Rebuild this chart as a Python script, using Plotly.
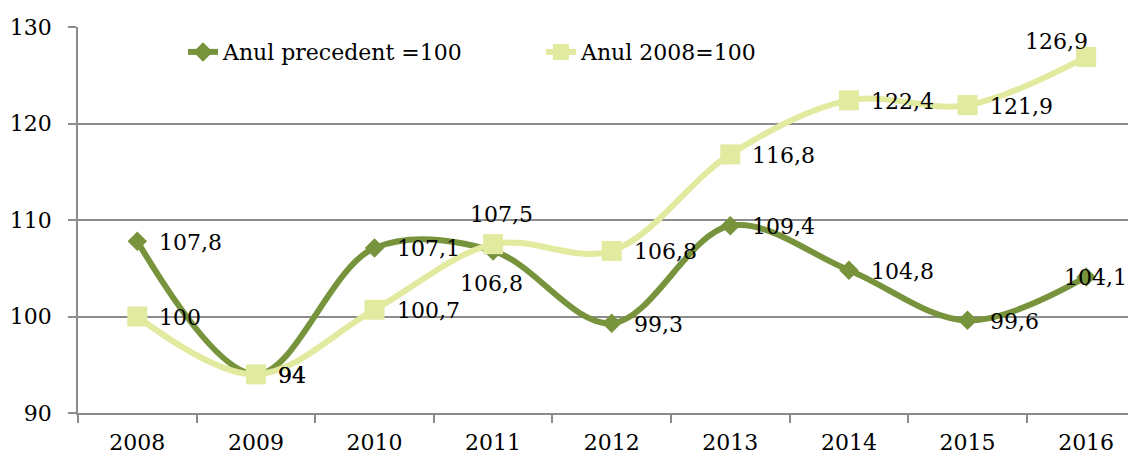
import plotly.graph_objects as go

years = ["2008", "2009", "2010", "2011", "2012", "2013", "2014", "2015", "2016"]
prev_year = [107.8, 94, 107.1, 106.8, 99.3, 109.4, 104.8, 99.6, 104.1]
base_2008 = [100, 94, 100.7, 107.5, 106.8, 116.8, 122.4, 121.9, 126.9]
name_prev = "Anul precedent =100"
name_base = "Anul 2008=100"
y_ticks = [90, 100, 110, 120, 130]


def fmt(v):
    s = f"{v:.1f}".replace(".", ",")
    return s[:-2] if s.endswith(",0") else s


FONT = "DejaVu Serif"
FS = 22
DARK = "#77933C"
LIGHT = "#E1EA9E"
GRID = "#8C8C8C"

# label placement: r = right of point, t = above, b = below, e = right but pulled in at the edge
place_prev = ["r", "r", "r", "b", "r", "r", "r", "r", "e"]
place_base = ["r", "r", "r", "t", "r", "r", "r", "r", "tl"]

fig = go.Figure()
fig.add_trace(go.Scatter(
    x=years, y=prev_year, name=name_prev, mode="lines+markers",
    line=dict(color=DARK, width=6, shape="spline", smoothing=1),
    marker=dict(symbol="diamond", size=15, color=DARK),
))
fig.add_trace(go.Scatter(
    x=years, y=base_2008, name=name_base, mode="lines+markers",
    line=dict(color=LIGHT, width=6, shape="spline", smoothing=1),
    marker=dict(symbol="square", size=20, color=LIGHT),
))

anns = []
for vals, places in ((prev_year, place_prev), (base_2008, place_base)):
    for i, (v, p) in enumerate(zip(vals, places)):
        # category axes take the serial index of the category for annotations
        a = dict(x=i, y=v, xref="x", yref="y", text=fmt(v), showarrow=False,
                 font=dict(family=FONT, size=FS, color="black"))
        if p == "r":
            a.update(xanchor="left", yanchor="middle", xshift=20, yshift=-1)
        elif p == "e":
            a.update(xanchor="left", yanchor="middle", xshift=-24, yshift=-1)
        elif p == "t":
            a.update(xanchor="center", yanchor="middle", xshift=8, yshift=30)
        elif p == "b":
            a.update(xanchor="center", yanchor="middle", xshift=-2, yshift=-33)
        elif p == "tl":
            a.update(xanchor="right", yanchor="middle", xshift=4, yshift=15)
        anns.append(a)

fig.update_layout(
    width=1128, height=458,
    margin=dict(l=78, r=0, t=27, b=45),
    paper_bgcolor="white", plot_bgcolor="white",
    font=dict(family=FONT, size=FS, color="black"),
    showlegend=True,
    annotations=anns,
    legend=dict(orientation="h", x=0.100, y=0.935, xanchor="left", yanchor="middle",
                bgcolor="rgba(0,0,0,0)", font=dict(family=FONT, size=FS),
                entrywidth=313, entrywidthmode="pixels"),
)
fig.update_xaxes(
    type="category", range=[-0.5, 8.353], automargin=False,
    showline=True, linecolor=GRID, linewidth=1.5,
    ticks="outside", tickson="boundaries", ticklen=8, tickcolor=GRID, tickwidth=1.5,
    showgrid=False, ticklabelstandoff=9,
)
fig.update_yaxes(
    range=[90, 130], tickvals=y_ticks, ticktext=[str(v) for v in y_ticks], automargin=False,
    showline=True, linecolor=GRID, linewidth=1.5,
    showgrid=True, gridcolor=GRID, gridwidth=1.5,
    ticks="outside", ticklen=8, tickcolor=GRID, tickwidth=1.5,
    ticklabelstandoff=12, zeroline=False,
)
fig.write_html("out.html", config={"displayModeBar": False},
               post_script="document.body.style.margin='0';document.body.style.overflow='hidden';")
